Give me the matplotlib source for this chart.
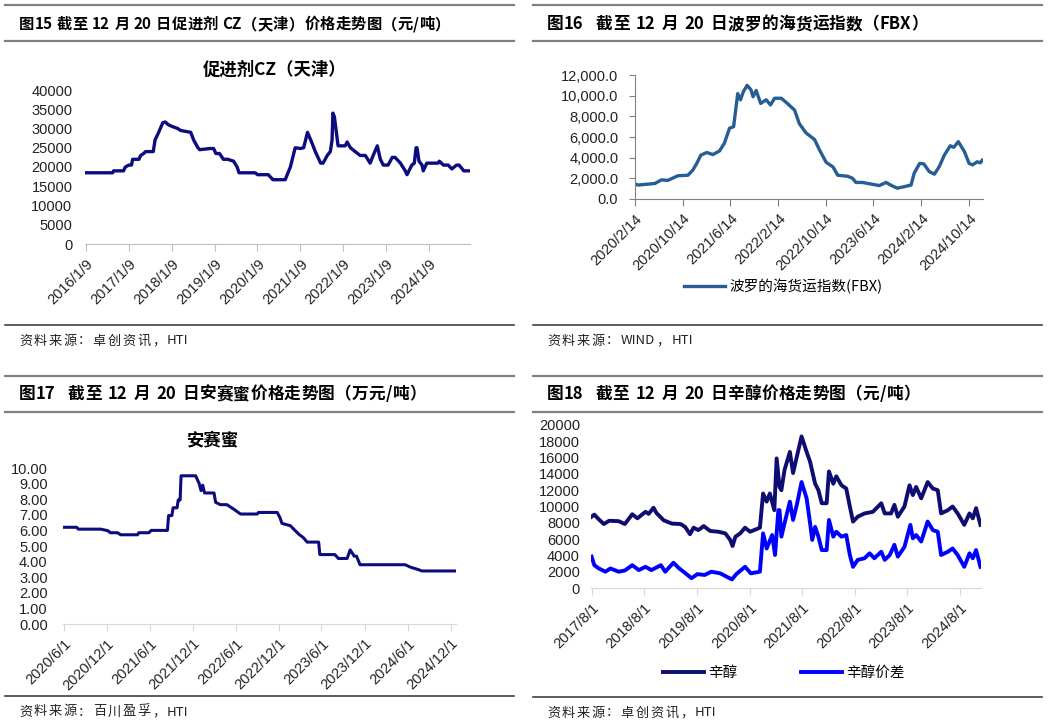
import pandas as pd
import matplotlib.pyplot as plt
from matplotlib.lines import Line2D

W, H = 1049, 725
CJK = ['Noto Sans CJK SC', 'DejaVu Sans']
NUM = ['Liberation Sans', 'DejaVu Sans']

# ---------------- 图15 促进剂CZ（天津）
cz_dates = ['2016-01-09', '2016-08-25', '2016-09-01', '2016-11-25', '2016-12-10', '2017-01-09',
            '2017-02-01', '2017-02-10', '2017-04-05', '2017-04-20', '2017-05-15', '2017-06-01',
            '2017-08-05', '2017-08-20', '2017-09-20', '2017-10-25', '2017-11-15', '2017-12-10',
            '2018-01-15', '2018-03-01', '2018-03-25', '2018-06-20', '2018-07-15', '2018-08-20',
            '2018-09-05', '2018-12-01', '2019-01-01', '2019-01-20', '2019-02-20', '2019-03-25',
            '2019-05-01', '2019-06-20', '2019-07-20', '2019-08-05', '2019-12-20', '2020-01-10',
            '2020-04-10', '2020-05-20', '2020-09-01', '2020-10-15', '2020-11-25', '2021-01-09',
            '2021-02-05', '2021-03-10', '2021-04-20', '2021-05-15', '2021-06-30', '2021-07-20',
            '2021-08-25', '2021-09-20', '2021-10-05', '2021-10-12', '2021-10-25', '2021-11-25',
            '2022-01-25', '2022-02-10', '2022-03-10', '2022-04-20', '2022-06-01', '2022-07-15',
            '2022-08-25', '2022-09-20', '2022-10-25', '2022-11-20', '2022-12-15', '2023-01-25',
            '2023-03-01', '2023-03-25', '2023-05-10', '2023-06-20', '2023-07-05', '2023-08-15',
            '2023-09-05', '2023-09-20', '2023-09-28', '2023-10-15', '2023-11-10', '2023-11-20',
            '2023-12-20', '2024-03-25', '2024-04-05', '2024-05-10', '2024-06-20', '2024-07-20',
            '2024-08-30', '2024-09-20', '2024-10-30', '2024-12-20']
cz_values = [18500, 18500, 19000, 19000, 20000, 20500,
             20500, 22000, 22000, 23000, 23500, 24000,
             24000, 27000, 29000, 31500, 31700, 31000,
             30500, 30000, 29500, 29000, 27000, 25000,
             24500, 24800, 24800, 23500, 23500, 22000,
             22000, 21500, 20000, 18500, 18500, 18000,
             18000, 16700, 16700, 20000, 25000, 24800,
             25000, 29000, 26000, 24000, 21000, 21000,
             23000, 24000, 27000, 34000, 33000, 25500,
             25500, 26500, 25000, 24000, 23000, 23000,
             21000, 23000, 25500, 22000, 20500, 20500,
             22500, 22500, 21000, 19000, 18000, 20500,
             21000, 25000, 25000, 21500, 20500, 19000,
             21000, 21000, 21500, 20500, 20500, 19500,
             20500, 20500, 19000, 19000]
cz_ticks = ['2016-01-09', '2017-01-09', '2018-01-09', '2019-01-09', '2020-01-09',
            '2021-01-09', '2022-01-09', '2023-01-09', '2024-01-09']
cz_labels = ['2016/1/9', '2017/1/9', '2018/1/9', '2019/1/9', '2020/1/9',
             '2021/1/9', '2022/1/9', '2023/1/9', '2024/1/9']

# ---------------- 图16 FBX
fbx_dates = ['2020-02-14', '2020-03-01', '2020-05-25', '2020-06-28', '2020-07-30', '2020-09-20',
             '2020-11-10', '2020-12-05', '2020-12-25', '2021-01-15', '2021-02-14', '2021-03-17',
             '2021-04-20', '2021-05-15', '2021-06-10', '2021-07-01', '2021-07-22', '2021-08-05',
             '2021-08-20', '2021-09-08', '2021-09-28', '2021-10-08', '2021-10-24', '2021-11-16',
             '2021-12-14', '2022-01-05', '2022-01-26', '2022-03-01', '2022-04-01', '2022-05-08',
             '2022-06-01', '2022-07-05', '2022-08-18', '2022-09-12', '2022-10-16', '2022-11-20',
             '2022-12-14', '2023-02-03', '2023-02-28', '2023-03-17', '2023-04-20', '2023-06-01',
             '2023-07-14', '2023-08-17', '2023-09-20', '2023-10-14', '2023-11-20', '2023-12-23',
             '2024-01-08', '2024-02-05', '2024-02-26', '2024-03-25', '2024-04-20', '2024-05-14',
             '2024-06-10', '2024-07-10', '2024-07-28', '2024-08-20', '2024-09-20', '2024-10-14',
             '2024-11-01', '2024-11-24', '2024-12-10', '2024-12-20']
fbx_values = [1450, 1350, 1500, 1850, 1800, 2250,
              2300, 2800, 3450, 4250, 4500, 4300,
              4650, 5400, 6850, 7000, 10200, 9600,
              10400, 11000, 10550, 9900, 10500, 9250,
              9600, 9100, 9750, 9750, 9250, 8600,
              7300, 6400, 5750, 4750, 3550, 3100,
              2300, 2200, 2000, 1600, 1600, 1450,
              1300, 1600, 1250, 1050, 1200, 1350,
              2500, 3450, 3400, 2650, 2400, 3100,
              4250, 5150, 5000, 5550, 4600, 3450,
              3300, 3600, 3500, 3750]
fbx_ticks = ['2020-02-14', '2020-10-14', '2021-06-14', '2022-02-14',
             '2022-10-14', '2023-06-14', '2024-02-14', '2024-10-14']
fbx_labels = ['2020/2/14', '2020/10/14', '2021/6/14', '2022/2/14',
              '2022/10/14', '2023/6/14', '2024/2/14', '2024/10/14']

# ---------------- 图17 安赛蜜（万元/吨）
ace_dates = ['2020-06-01', '2020-07-25', '2020-08-01', '2020-11-05', '2020-12-05', '2020-12-15',
             '2021-01-15', '2021-01-28', '2021-04-10', '2021-04-15', '2021-05-28', '2021-06-07',
             '2021-08-15', '2021-08-20', '2021-09-03', '2021-09-08', '2021-09-25', '2021-09-30',
             '2021-10-08', '2021-10-12', '2021-12-13', '2021-12-28', '2022-01-05', '2022-01-12',
             '2022-01-20', '2022-03-01', '2022-03-08', '2022-03-28', '2022-04-25', '2022-05-25',
             '2022-06-22', '2022-09-01', '2022-09-06', '2022-11-25', '2022-12-07', '2022-12-15',
             '2023-01-20', '2023-02-05', '2023-02-25', '2023-03-15', '2023-04-01', '2023-05-20',
             '2023-05-25', '2023-07-28', '2023-08-12', '2023-09-18', '2023-10-01', '2023-10-18',
             '2023-10-28', '2023-11-12', '2024-05-22', '2024-06-12', '2024-07-18', '2024-08-01',
             '2024-12-20']
ace_values = [6.20, 6.20, 6.08, 6.08, 5.98, 5.85,
              5.85, 5.72, 5.72, 5.85, 5.85, 6.00,
              6.00, 6.95, 6.95, 7.45, 7.45, 7.95,
              7.95, 9.50, 9.50, 9.00, 8.55, 8.90,
              8.40, 8.40, 7.80, 7.65, 7.65, 7.35,
              7.05, 7.05, 7.15, 7.15, 6.80, 6.45,
              6.30, 6.05, 5.75, 5.55, 5.25, 5.25,
              4.45, 4.45, 4.20, 4.20, 4.75, 4.35,
              4.35, 3.80, 3.80, 3.65, 3.48, 3.40,
              3.40]
ace_ticks = ['2020-06-01', '2020-12-01', '2021-06-01', '2021-12-01', '2022-06-01',
             '2022-12-01', '2023-06-01', '2023-12-01', '2024-06-01', '2024-12-01']
ace_labels = ['2020/6/1', '2020/12/1', '2021/6/1', '2021/12/1', '2022/6/1',
              '2022/12/1', '2023/6/1', '2023/12/1', '2024/6/1', '2024/12/1']

# ---------------- 图18 辛醇 / 辛醇价差
oct_dates = ['2017-08-01', '2017-08-20', '2017-09-20', '2017-10-25', '2017-12-01', '2018-02-05',
             '2018-03-20', '2018-05-10', '2018-06-15', '2018-08-10', '2018-09-01', '2018-10-05',
             '2018-10-25', '2018-12-15', '2019-02-10', '2019-04-10', '2019-05-12', '2019-06-15',
             '2019-07-10', '2019-08-12', '2019-09-18', '2019-11-01', '2019-12-30', '2020-02-15',
             '2020-03-20', '2020-04-05', '2020-04-25', '2020-05-28', '2020-07-01', '2020-08-05',
             '2020-10-12', '2020-11-03', '2020-11-28', '2020-12-20', '2021-01-20', '2021-02-05',
             '2021-02-25', '2021-03-10', '2021-04-01', '2021-05-08', '2021-05-30', '2021-06-25',
             '2021-07-28', '2021-09-01', '2021-09-25', '2021-10-30', '2021-11-22', '2021-12-15',
             '2022-01-18', '2022-02-03', '2022-03-05', '2022-03-26', '2022-05-01', '2022-06-03',
             '2022-06-28', '2022-07-20', '2022-08-22', '2022-10-08', '2022-12-05', '2023-02-01',
             '2023-02-25', '2023-04-10', '2023-05-03', '2023-05-27', '2023-07-12', '2023-08-16',
             '2023-09-08', '2023-10-01', '2023-11-05', '2023-12-20', '2024-01-25', '2024-02-28',
             '2024-03-22', '2024-05-08', '2024-06-10', '2024-07-15', '2024-08-30', '2024-10-05',
             '2024-10-28', '2024-11-20', '2024-12-20']
oct_values = [8750, 9000, 8430, 7850, 8250, 8200,
              7850, 9050, 8550, 9350, 9100, 9850,
              9200, 8300, 7900, 7850, 7500, 6600,
              7400, 7100, 7600, 7000, 6900, 6700,
              5900, 5150, 6300, 6700, 7400, 6900,
              7400, 11600, 10600, 11600, 9550, 15900,
              12400, 12000, 14500, 16700, 14100, 16100,
              18600, 16700, 15500, 12800, 12000, 10400,
              10400, 14300, 12800, 13700, 12600, 12200,
              10000, 8150, 8750, 9150, 9350, 10400,
              9150, 9150, 10200, 8750, 10000, 12600,
              11400, 12400, 11000, 13000, 12200, 12000,
              9150, 9550, 10000, 9150, 7750, 9150,
              8550, 9800, 7750]
spread_dates = ['2017-08-01', '2017-08-20', '2017-09-20', '2017-11-05', '2017-12-10', '2018-02-05',
                '2018-03-20', '2018-05-10', '2018-06-25', '2018-08-10', '2018-09-20', '2018-11-25',
                '2018-12-25', '2019-02-20', '2019-04-01', '2019-05-15', '2019-06-25', '2019-08-05',
                '2019-09-25', '2019-11-10', '2020-01-10', '2020-04-01', '2020-05-01', '2020-07-01',
                '2020-08-10', '2020-10-12', '2020-11-03', '2020-11-28', '2021-01-05', '2021-01-25',
                '2021-02-17', '2021-02-25', '2021-03-10', '2021-04-01', '2021-05-08', '2021-05-30',
                '2021-06-25', '2021-07-28', '2021-09-01', '2021-09-25', '2021-10-10', '2021-10-30',
                '2021-11-22', '2021-12-15', '2022-01-18', '2022-02-03', '2022-03-05', '2022-03-26',
                '2022-05-01', '2022-06-03', '2022-06-28', '2022-07-20', '2022-08-22', '2022-10-08',
                '2022-11-12', '2022-12-15', '2023-02-01', '2023-02-25', '2023-04-01', '2023-05-03',
                '2023-05-27', '2023-07-12', '2023-08-22', '2023-09-08', '2023-10-01', '2023-11-05',
                '2023-12-20', '2024-01-25', '2024-02-28', '2024-03-22', '2024-05-08', '2024-06-10',
                '2024-07-15', '2024-08-30', '2024-10-05', '2024-10-28', '2024-11-20', '2024-12-20']
spread_values = [3850, 2800, 2400, 2000, 2400, 2000,
                 2150, 2800, 2200, 2600, 2200, 2800,
                 2000, 3100, 2400, 1800, 1200, 1700,
                 1600, 2000, 1800, 1050, 1700, 2600,
                 1800, 2000, 6700, 4850, 6500, 4050,
                 9550, 9550, 6300, 7950, 10600, 8350,
                 10200, 13000, 11000, 7950, 5900, 7500,
                 6300, 4650, 4650, 8350, 6300, 6900,
                 6300, 6500, 4050, 2600, 3450, 3650,
                 4250, 3650, 4450, 3450, 4050, 5300,
                 3850, 5050, 7750, 6100, 6500, 5700,
                 8150, 7100, 6900, 4050, 4450, 4850,
                 4050, 2600, 4250, 3650, 4650, 2600]
oct_ticks = ['2017-08-01', '2018-08-01', '2019-08-01', '2020-08-01',
             '2021-08-01', '2022-08-01', '2023-08-01', '2024-08-01']
oct_labels = ['2017/8/1', '2018/8/1', '2019/8/1', '2020/8/1',
              '2021/8/1', '2022/8/1', '2023/8/1', '2024/8/1']

NAVY = '#0c0c80'

fig = plt.figure(figsize=(W / 100, H / 100), dpi=100)
renderer = fig.canvas.get_renderer()


def fx(x):
    return x / W


def fy(y):
    return 1 - y / H


def add_ax(l, t, r, b):
    return fig.add_axes([l / W, 1 - b / H, (r - l) / W, (b - t) / H])


def tokens(s):
    # CJK chars one by one, ascii runs kept together, spaces as ' '
    out, run = [], ''
    for ch in s:
        if ch == ' ' or ord(ch) > 0x2E80:
            if run:
                out.append(run)
                run = ''
            out.append(ch)
        else:
            run += ch
    if run:
        out.append(run)
    return out


def spaced_text(x, y, s, size, track, gap, **kw):
    # draw text piece by piece with extra tracking (px); spaces advance by gap px
    for tok in tokens(s):
        if tok == ' ':
            x += gap
            continue
        t = fig.text(fx(x), fy(y), tok, fontsize=size, va='center', ha='left', **kw)
        x += t.get_window_extent(renderer).width + track


def frame(x0, x1, y_top, y_mid, y_bot, tx, ty, title, tsize, track, gap, source):
    fig.add_artist(Line2D([fx(x0), fx(x1)], [fy(y_top)] * 2, color='#808080', lw=1.6))
    fig.add_artist(Line2D([fx(x0), fx(x1)], [fy(y_mid)] * 2, color='#808080', lw=1.6))
    fig.add_artist(Line2D([fx(x0), fx(x1)], [fy(y_bot)] * 2, color='#404040', lw=1.2))
    spaced_text(tx, ty, title, tsize, track, gap, family=CJK, fontweight='bold')
    spaced_text(tx, y_bot + 16, source, 9.5, 1.5, 4, family=CJK, color='#222222')


def style(ax, ticks, labels, yticks, ylabels, spine, show_left, ypad):
    for s in ['top', 'right']:
        ax.spines[s].set_visible(False)
    ax.spines['left'].set_visible(show_left)
    ax.spines['left'].set_color(spine)
    ax.spines['bottom'].set_color(spine)
    ax.set_xticks(pd.to_datetime(ticks))
    ax.set_xticklabels(labels, rotation=45, ha='right', rotation_mode='anchor',
                       family=NUM, fontsize=10.5, color='#222222')
    ax.set_yticks(yticks)
    ax.set_yticklabels(ylabels, family=NUM, fontsize=10.5, color='#222222')
    ax.tick_params(axis='x', length=5, color=spine, pad=4)
    ax.tick_params(axis='y', length=4 if show_left else 0, color=spine, pad=ypad)


# panel 1
frame(5, 514, 5, 41, 325, 19, 24, '图15 截至 12 月 20 日促进剂 CZ（天津）价格走势图（元/吨）',
      11, 0.3, 4, '资料来源：卓创资讯，HTI')
ax1 = add_ax(85, 90, 470, 244)
ax1.plot(pd.to_datetime(cz_dates), cz_values, color=NAVY, lw=2.4)
ax1.set_ylim(0, 40000)
ax1.set_xlim(pd.Timestamp('2016-01-02'), pd.Timestamp('2024-12-22'))
style(ax1, cz_ticks, cz_labels, range(0, 40001, 5000),
      [str(v) for v in range(0, 40001, 5000)], '#bfbfbf', False, 9)
fig.text(fx(275), fy(70), '促进剂CZ（天津）', family=CJK, fontsize=12.5, fontweight='bold',
         ha='center', va='center')

# panel 2
frame(533, 1042, 5, 41, 325, 547, 24, '图16  截至 12 月 20 日波罗的海货运指数（FBX）',
      12, 0.3, 6, '资料来源：WIND，HTI')
ax2 = add_ax(635, 75, 983, 199)
ax2.plot(pd.to_datetime(fbx_dates), fbx_values, color='#275d95', lw=2.4,
         label='波罗的海货运指数(FBX)')
ax2.set_ylim(0, 12000)
ax2.set_xlim(pd.Timestamp('2020-02-14'), pd.Timestamp('2024-12-24'))
style(ax2, fbx_ticks, fbx_labels, range(0, 12001, 2000),
      ['{:,.1f}'.format(v) for v in range(0, 12001, 2000)], '#808080', True, 8)
ax2.legend(loc='center', bbox_to_anchor=(fx(783), fy(286)), bbox_transform=fig.transFigure,
           frameon=False, prop={'family': CJK, 'size': 10.5}, handlelength=2.8,
           handletextpad=0.3)

# panel 3
frame(5, 514, 376, 412, 696, 19, 394, '图17  截至 12 月 20 日安赛蜜价格走势图（万元/吨）',
      12, 0.3, 6, '资料来源：百川盈孚，HTI')
ax3 = add_ax(63, 468, 456, 624)
ax3.plot(pd.to_datetime(ace_dates), ace_values, color=NAVY, lw=2.2)
ax3.set_ylim(0, 10)
ax3.set_xlim(pd.Timestamp('2020-05-28'), pd.Timestamp('2024-12-24'))
style(ax3, ace_ticks, ace_labels, range(0, 11),
      ['{:.2f}'.format(v) for v in range(0, 11)], '#d9d9d9', False, 11)
fig.text(fx(213), fy(440), '安赛蜜', family=CJK, fontsize=12.5, fontweight='bold',
         ha='center', va='center')

# panel 4
frame(533, 1042, 376, 412, 697, 547, 394, '图18  截至 12 月 20 日辛醇价格走势图（元/吨）',
      12, 0.3, 6, '资料来源：卓创资讯，HTI')
ax4 = add_ax(591, 425, 981, 588)
ax4.plot(pd.to_datetime(oct_dates), oct_values, color='#0d0d72', lw=2.8, label='辛醇')
ax4.plot(pd.to_datetime(spread_dates), spread_values, color='#0000ff', lw=2.8, label='辛醇价差')
ax4.set_ylim(0, 20000)
ax4.set_xlim(pd.Timestamp('2017-07-28'), pd.Timestamp('2024-12-24'))
style(ax4, oct_ticks, oct_labels, range(0, 20001, 2000),
      [str(v) for v in range(0, 20001, 2000)], '#d9d9d9', False, 8)
ax4.legend(loc='center', bbox_to_anchor=(fx(784), fy(673)), bbox_transform=fig.transFigure,
           ncol=2, frameon=False, prop={'family': CJK, 'size': 10.5}, handlelength=2.8,
           handletextpad=0.3, columnspacing=4.4)

fig.savefig('out.png', dpi=100)
